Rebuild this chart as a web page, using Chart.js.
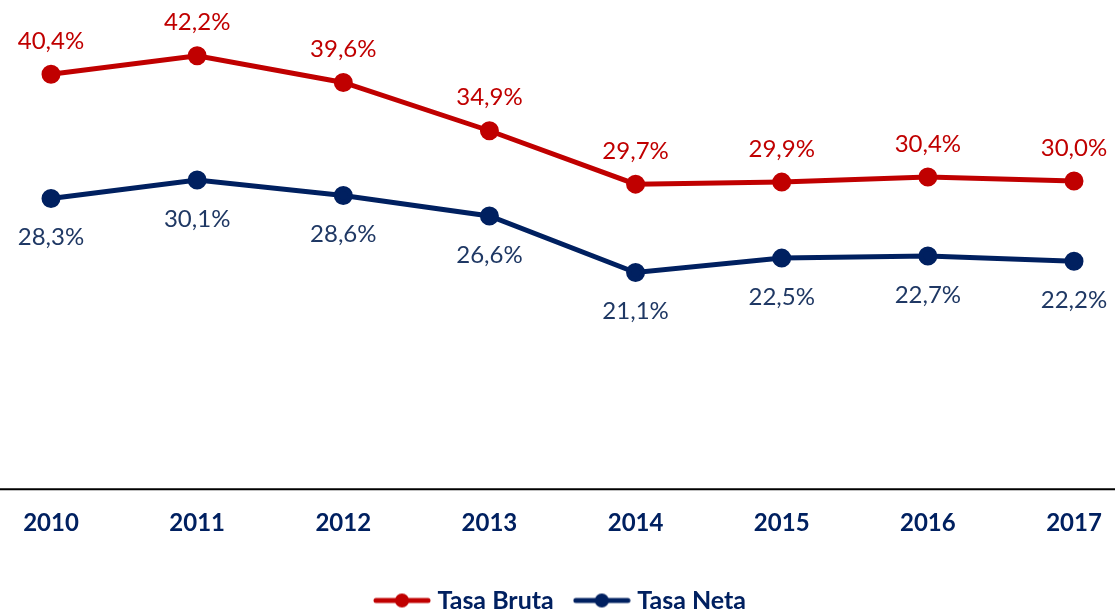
<!DOCTYPE html>
<html>
<head>
<meta charset="utf-8">
<script src="https://cdn.jsdelivr.net/npm/chart.js@4/dist/chart.umd.min.js"></script>
<style>
  html, body { margin: 0; padding: 0; background: #fff; }
  #wrap { width: 1115px; height: 610px; }
</style>
</head>
<body>
<div id="wrap"><canvas id="myChart" width="1115" height="610"></canvas></div>
<script>
var years = ["2010", "2011", "2012", "2013", "2014", "2015", "2016", "2017"];
var tasaBruta = [40.4, 42.2, 39.6, 34.9, 29.7, 29.9, 30.4, 30.0];
var tasaNeta = [28.3, 30.1, 28.6, 26.6, 21.1, 22.5, 22.7, 22.2];

var red = "#C00000";
var navy = "#002060";

// little line + dot picture for the legend
function legendIcon(color) {
    var c = document.createElement("canvas");
    c.width = 58;
    c.height = 16;
    var g = c.getContext("2d");
    g.strokeStyle = color;
    g.lineWidth = 5;
    g.lineCap = "round";
    g.beginPath();
    g.moveTo(3, 8);
    g.lineTo(55, 8);
    g.stroke();
    g.fillStyle = color;
    g.beginPath();
    g.arc(29, 8, 7, 0, Math.PI * 2);
    g.fill();
    return c;
}

function fmt(v) {
    return v.toFixed(1).replace(".", ",") + "%";
}

// value labels + the full width axis line
var labelPlugin = {
    id: "labelPlugin",
    afterLayout: function (chart) {
        // push the legend a bit closer to the bottom edge
        chart.legend.top += 13;
        chart.legend.bottom += 13;
    },
    afterDatasetsDraw: function (chart) {
        var ctx = chart.ctx;
        var y0 = chart.scales.y.getPixelForValue(0);
        ctx.save();
        ctx.strokeStyle = "#000";
        ctx.lineWidth = 2;
        ctx.beginPath();
        ctx.moveTo(0, y0);
        ctx.lineTo(chart.width, y0);
        ctx.stroke();

        ctx.font = "24px Lato";
        ctx.textAlign = "center";
        ctx.textBaseline = "middle";
        chart.data.datasets.forEach(function (ds, i) {
            var meta = chart.getDatasetMeta(i);
            meta.data.forEach(function (pt, j) {
                ctx.fillStyle = i === 0 ? red : "#1F3864";
                var dy = i === 0 ? -33 : 39;
                ctx.fillText(fmt(ds.data[j]), pt.x, pt.y + dy);
            });
        });
        ctx.restore();
    },
};

var config = {
    type: "line",
    data: {
        labels: years,
        datasets: [
            {
                label: "Tasa Bruta",
                data: tasaBruta,
                borderColor: red,
                backgroundColor: red,
                borderWidth: 5,
                pointRadius: 7,
                pointHoverRadius: 7,
            },
            {
                label: "Tasa Neta",
                data: tasaNeta,
                borderColor: navy,
                backgroundColor: navy,
                borderWidth: 5,
                pointRadius: 7,
                pointHoverRadius: 7,
            },
        ],
    },
    options: {
        responsive: false,
        animation: false,
        layout: { padding: { left: 51, right: 41, top: 27, bottom: 0 } },
        scales: {
            x: {
                offset: false,
                grid: { display: false },
                border: { display: false },
                ticks: {
                    color: navy,
                    font: { family: "Lato", size: 24, weight: "bold" },
                    padding: 12,
                    maxRotation: 0,
                },
            },
            y: {
                display: false,
                min: 0,
                max: 45,
            },
        },
        plugins: {
            tooltip: { enabled: false },
            legend: {
                position: "bottom",
                labels: {
                    color: navy,
                    font: { family: "Lato", size: 25, weight: "bold" },
                    usePointStyle: true,
                    pointStyleWidth: 46,
                    padding: 25,
                    generateLabels: function (chart) {
                        return chart.data.datasets.map(function (ds, i) {
                            return {
                                text: ds.label,
                                fontColor: navy,
                                pointStyle: legendIcon(ds.borderColor),
                                datasetIndex: i,
                                lineWidth: 0,
                            };
                        });
                    },
                },
            },
        },
    },
    plugins: [labelPlugin],
};

var ctx = document.getElementById("myChart").getContext("2d");
var myChart = new Chart(ctx, config);
</script>
</body>
</html>
